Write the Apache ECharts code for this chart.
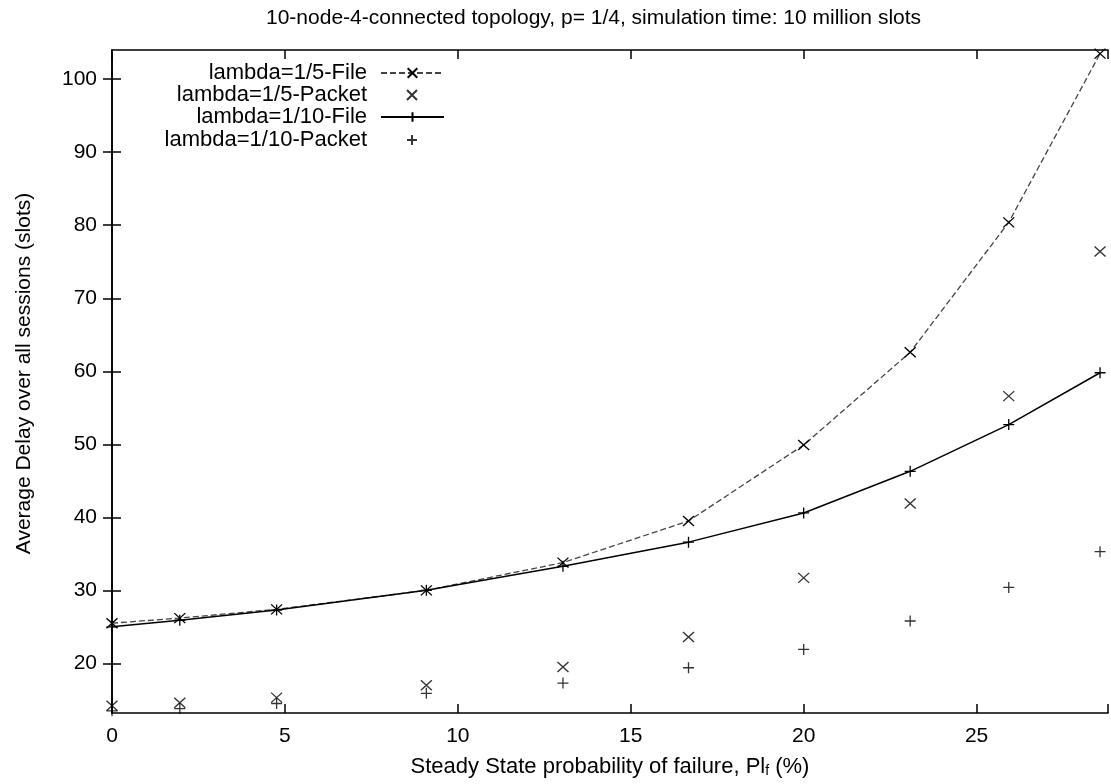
<!DOCTYPE html>
<html>
<head>
<meta charset="utf-8">
<script src="https://cdn.jsdelivr.net/npm/echarts@6/dist/echarts.min.js"></script>
<style>
  html, body { margin: 0; padding: 0; background: #fff; }
  #chart { width: 1111px; height: 784px; }
</style>
</head>
<body>
<div id="chart"></div>
<script>
// Steady-state probability of failure (%) for each simulated point
const failureProb = [0, 1.96, 4.76, 9.09, 13.04, 16.67, 20, 23.08, 25.93, 28.57];

// Average delay over all sessions (slots)
const delayFile5 = [25.5, 26.2, 27.4, 30.0, 33.8, 39.5, 49.9, 62.6, 80.4, 103.5];
const delayPacket5 = [14.2, 14.6, 15.3, 17.0, 19.5, 23.6, 31.7, 41.9, 56.6, 76.4];
const delayFile10 = [25.0, 25.9, 27.3, 30.0, 33.3, 36.6, 40.6, 46.3, 52.7, 59.8];
const delayPacket10 = [13.5, 13.8, 14.5, 15.9, 17.3, 19.4, 21.9, 25.8, 30.4, 35.3];

const seriesNames = ['lambda=1/5-File', 'lambda=1/5-Packet', 'lambda=1/10-File', 'lambda=1/10-Packet'];
const yTickValues = [20, 30, 40, 50, 60, 70, 80, 90, 100];

const FONT = 'Liberation Sans, Arial, Helvetica, sans-serif';
const CROSS = 'path://M0,0L10,10M10,0L0,10';
const PLUS = 'path://M5,0L5,10M0,5L10,5';

function pairs(ys) {
  return failureProb.map((x, i) => [x, ys[i]]);
}

const markStyle = { color: '#000', borderColor: '#000', borderWidth: 1.3 };

const xRange = { min: 0, max: 28.8, interval: 5 };
const yRange = { min: 13.2, max: 104 };
const tick = { show: true, inside: true, length: 9, lineStyle: { color: '#000', width: 1.5 } };
const axisLine = { show: true, lineStyle: { color: '#000', width: 1.6 } };

function legendFor(name, right, top, itemWidth, padRight) {
  return {
    data: [name],
    orient: 'vertical',
    align: 'right',
    right: right,
    top: top,
    padding: 0,
    itemWidth: itemWidth,
    itemHeight: 12,
    selectedMode: false,
    textStyle: { fontFamily: FONT, fontSize: 22, color: '#000', padding: [0, padRight, 0, 0] }
  };
}

const chart = echarts.init(document.getElementById('chart'), null, { renderer: 'canvas' });
chart.setOption({
  animation: false,
  backgroundColor: '#fff',
  title: {
    text: '10-node-4-connected topology, p= 1/4, simulation time: 10 million slots',
    left: 261,
    top: 3,
    textStyle: { fontFamily: FONT, fontSize: 21, fontWeight: 'normal', color: '#000' }
  },
  legend: [
    legendFor(seriesNames[0], 666, 62, 63, 9),
    legendFor(seriesNames[1], 693, 84, 10, 35),
    legendFor(seriesNames[2], 666, 106, 63, 9),
    legendFor(seriesNames[3], 693, 129, 10, 35)
  ],
  grid: { left: 112, right: 2, top: 50, bottom: 71, containLabel: false },
  xAxis: [
    {
      type: 'value', position: 'bottom', ...xRange,
      axisLine, axisTick: tick, splitLine: { show: false },
      axisLabel: { fontFamily: FONT, fontSize: 21, color: '#000', margin: 13,
        formatter: v => (v > 28 ? '' : String(v)) },
      name: 'Steady State probability of failure, Pl{sub|f} (%)',
      nameLocation: 'middle', nameGap: 43,
      nameTextStyle: { fontFamily: FONT, fontSize: 22, color: '#000',
        rich: { sub: { fontFamily: FONT, fontSize: 14, color: '#000', verticalAlign: 'bottom' } } }
    },
    {
      type: 'value', position: 'top', ...xRange,
      axisLine, axisTick: tick, axisLabel: { show: false }, splitLine: { show: false }
    }
  ],
  yAxis: [
    {
      type: 'value', position: 'left', ...yRange,
      axisLine,
      axisTick: { ...tick, customValues: yTickValues },
      axisLabel: { fontFamily: FONT, fontSize: 21, color: '#000', margin: 15, customValues: yTickValues },
      splitLine: { show: false },
      name: 'Average Delay over all sessions (slots)',
      nameLocation: 'middle', nameGap: 77, nameRotate: 90,
      nameTextStyle: { fontFamily: FONT, fontSize: 21, color: '#000', padding: [0, 0, 0, 16] }
    },
    {
      type: 'value', position: 'right', ...yRange,
      axisLine,
      axisTick: { ...tick, customValues: yTickValues },
      axisLabel: { show: false }, splitLine: { show: false }
    }
  ],
  series: [
    {
      name: seriesNames[0], type: 'line', data: pairs(delayFile5),
      symbol: CROSS, symbolSize: [11, 10], showAllSymbol: true,
      lineStyle: { color: '#444', width: 1.3, type: [6, 3] },
      itemStyle: markStyle, emphasis: { disabled: true }, z: 3
    },
    {
      name: seriesNames[1], type: 'scatter', data: pairs(delayPacket5),
      symbol: CROSS, symbolSize: [11, 10],
      itemStyle: markStyle, emphasis: { disabled: true }
    },
    {
      name: seriesNames[2], type: 'line', data: pairs(delayFile10),
      symbol: PLUS, symbolSize: 11, showAllSymbol: true,
      lineStyle: { color: '#000', width: 1.5 },
      itemStyle: markStyle, emphasis: { disabled: true }, z: 3
    },
    {
      name: seriesNames[3], type: 'scatter', data: pairs(delayPacket10),
      symbol: PLUS, symbolSize: 11,
      itemStyle: markStyle, emphasis: { disabled: true }
    }
  ]
});
</script>
</body>
</html>
